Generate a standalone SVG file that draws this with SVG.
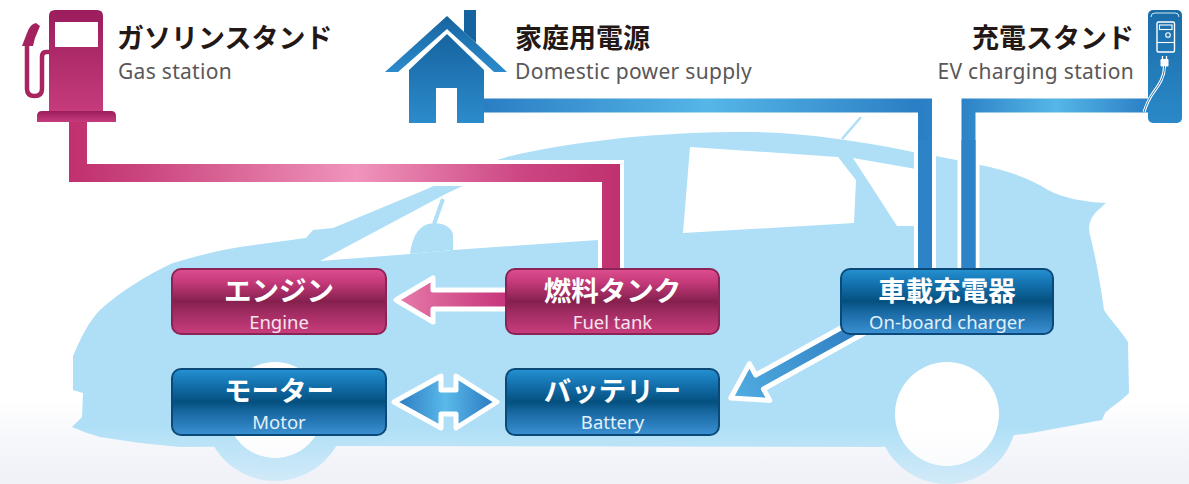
<svg xmlns="http://www.w3.org/2000/svg" width="1189" height="484" viewBox="0 0 1189 484">
  <defs>
    <style>
      .ttl { font-family: "Noto Sans CJK JP", "Noto Sans", sans-serif; font-size: 27px; font-weight: 700; fill: #231815; }
      .sub { font-family: "Noto Sans", "Liberation Sans", sans-serif; font-size: 21px; letter-spacing: 0.3px; fill: #595757; }
      .nj { font-family: "Noto Sans CJK JP", "Noto Sans", sans-serif; font-size: 27.5px; font-weight: 700; fill: #ffffff; text-anchor: middle; }
      .ne { font-family: "Noto Sans", "Liberation Sans", sans-serif; font-size: 18.5px; text-anchor: middle; }
      .pk { fill: url(#gPinkBox); stroke: #8c2357; stroke-width: 2; }
      .bl { fill: url(#gBlueBox); stroke: #0b4a78; stroke-width: 2; }
      .car { fill: #aedff6; }
      .win { fill: #ffffff; }
      .halo { fill: none; stroke: #ffffff; stroke-linejoin: miter; }
      .arw { stroke: #ffffff; stroke-width: 5; stroke-linejoin: round; }
    </style>
    <linearGradient id="gPinkBox" x1="0" y1="0" x2="0" y2="1">
      <stop offset="0" stop-color="#de4f90"/>
      <stop offset="0.2" stop-color="#c53a7a"/>
      <stop offset="0.5" stop-color="#85204e"/>
      <stop offset="0.65" stop-color="#9d2b60"/>
      <stop offset="1" stop-color="#c93d7c"/>
    </linearGradient>
    <linearGradient id="gBlueBox" x1="0" y1="0" x2="0" y2="1">
      <stop offset="0" stop-color="#2592d2"/>
      <stop offset="0.2" stop-color="#1675b3"/>
      <stop offset="0.5" stop-color="#04507f"/>
      <stop offset="0.65" stop-color="#1767a1"/>
      <stop offset="1" stop-color="#3b91d3"/>
    </linearGradient>
    <linearGradient id="gPinkPipe" gradientUnits="userSpaceOnUse" x1="69" y1="0" x2="622" y2="0">
      <stop offset="0" stop-color="#c0306e"/>
      <stop offset="0.12" stop-color="#c9437c"/>
      <stop offset="0.52" stop-color="#f094bb"/>
      <stop offset="0.82" stop-color="#cc4683"/>
      <stop offset="1" stop-color="#c0306e"/>
    </linearGradient>
    <linearGradient id="gHousePipe" gradientUnits="userSpaceOnUse" x1="484" y1="0" x2="932" y2="0">
      <stop offset="0" stop-color="#2a7ec4"/>
      <stop offset="0.5" stop-color="#56b6e7"/>
      <stop offset="0.97" stop-color="#2a7ec4"/>
      <stop offset="1" stop-color="#2c82c6"/>
    </linearGradient>
    <linearGradient id="gEvPipe" gradientUnits="userSpaceOnUse" x1="962" y1="0" x2="1150" y2="0">
      <stop offset="0" stop-color="#2c82c6"/>
      <stop offset="0.5" stop-color="#56b6e7"/>
      <stop offset="1" stop-color="#2a7ec4"/>
    </linearGradient>
    <linearGradient id="gPump" x1="0" y1="0" x2="0" y2="1">
      <stop offset="0" stop-color="#9b1d5c"/>
      <stop offset="1" stop-color="#c63c7c"/>
    </linearGradient>
    <linearGradient id="gHouse" x1="0" y1="0" x2="0" y2="1">
      <stop offset="0" stop-color="#16649f"/>
      <stop offset="1" stop-color="#2c8bcc"/>
    </linearGradient>
    <linearGradient id="gEv" x1="0" y1="0" x2="0" y2="1">
      <stop offset="0" stop-color="#1a6ca7"/>
      <stop offset="1" stop-color="#2b89c9"/>
    </linearGradient>
    <linearGradient id="gFuelArrow" gradientUnits="userSpaceOnUse" x1="394" y1="0" x2="508" y2="0">
      <stop offset="0" stop-color="#e77dab"/>
      <stop offset="1" stop-color="#c6347a"/>
    </linearGradient>
    <linearGradient id="gSwapArrow" gradientUnits="userSpaceOnUse" x1="394" y1="0" x2="497" y2="0">
      <stop offset="0" stop-color="#2877be"/>
      <stop offset="0.5" stop-color="#5ab9ea"/>
      <stop offset="1" stop-color="#2877be"/>
    </linearGradient>
    <linearGradient id="gChargeArrow" gradientUnits="userSpaceOnUse" x1="-180" y1="0" x2="0" y2="0">
      <stop offset="0" stop-color="#2674bb"/>
      <stop offset="1" stop-color="#52aee2"/>
    </linearGradient>
    <linearGradient id="gHaze" x1="0" y1="0" x2="0" y2="1">
      <stop offset="0" stop-color="#f4f6fb" stop-opacity="0"/>
      <stop offset="1" stop-color="#f1f3f9" stop-opacity="0.55"/>
    </linearGradient>
    <linearGradient id="gFloor" x1="0" y1="0" x2="0" y2="1">
      <stop offset="0" stop-color="#ffffff"/>
      <stop offset="1" stop-color="#eef0f7"/>
    </linearGradient>
  </defs>

  <rect x="0" y="0" width="1189" height="484" fill="#ffffff"/>
  <rect x="0" y="400" width="1189" height="84" fill="url(#gFloor)"/>

  <!-- car silhouette -->
  <g id="car">
    <path class="car" d="M333,228 L427,189 C450,179 475,166 507,157 C560,144 640,133 733,132 C790,131 850,139 913,152 C940,157 965,161 980,165 C1005,170 1030,178 1048,190 C1062,198 1085,202 1106,203 L1096,212 C1089,220 1088,228 1090,235 C1095,255 1100,280 1104,310 C1112,322 1122,332 1128,342 L1129,393 C1120,402 1110,408 1105,413 L1102,420 L1037,432 L1025,434 L880,447 L340,446 L180,447 L140,443 L100,437 L87,433 L72,427 L82,417 L83,393 L73,390 L73,356 C80,340 88,322 100,310 C120,292 148,274 173,263 C200,255 220,250 240,247 L306,238 L313,230 Z"/>
    <line x1="842" y1="139" x2="861" y2="117" stroke="#aedff6" stroke-width="2.5"/>
    <path class="win" d="M320,261 L440,197 C455,189 470,182 490,176 L600,166 L598,240 L453,250 L410,254 Z"/>
    <path class="win" d="M690,147 L838,157 L856,180 L854,223 L683,233 Z"/>
    <path class="win" d="M853,158 L916,169 L916,226 L897,226 Z"/>
    <path class="car" d="M410,254 C412,240 416,228 428,224 C440,221 452,226 453,235 L453,250 Z"/>
    <line x1="434" y1="224" x2="443" y2="199" stroke="#aedff6" stroke-width="4"/>
    <circle class="car" cx="275" cy="410" r="71"/>
    <circle class="win" cx="275" cy="410" r="48"/>
    <circle class="car" cx="947" cy="414" r="70"/>
    <circle class="win" cx="947" cy="414" r="52"/>
  </g>
  <rect x="0" y="425" width="1189" height="59" fill="url(#gHaze)"/>

  <!-- connectors -->
  <g id="connectors">
    <path class="halo" stroke-width="26" d="M78,115 V173 H611 V272"/>
    <path fill="none" stroke="url(#gPinkPipe)" stroke-width="18" d="M78,115 V173 H611 V272"/>
    <path class="halo" stroke-width="22" d="M482,105.5 H925 V272"/>
    <path class="halo" stroke-width="22" d="M1150,105.5 H968.5 V272"/>
    <path fill="none" stroke="url(#gHousePipe)" stroke-width="14" d="M482,105.5 H925 V272"/>
    <path fill="none" stroke="url(#gEvPipe)" stroke-width="14" d="M1150,105.5 H968.5 V272"/>
    <path fill="none" stroke="#2d83c7" stroke-width="14" d="M925,140 V272 M968.5,140 V272"/>

    <polygon class="arw" fill="url(#gFuelArrow)" points="396,300 433,278 433,290 508,290 508,309 433,309 433,322"/>
    <polygon class="arw" fill="url(#gSwapArrow)" points="394,402 441,376 441,390 456,390 456,376 497,402 456,428 456,414 441,414 441,428"/>
    <g transform="translate(729,399) rotate(151)">
      <polygon class="arw" fill="url(#gChargeArrow)" points="-2,0 -35,-21 -35,-8 -180,-8 -180,8 -35,8 -35,21"/>
    </g>
  </g>

  <!-- engine -->
  <g id="node-engine">
    <rect class="pk" x="172" y="269" width="214" height="65" rx="9"/>
    <text class="nj" x="279" y="300.5">エンジン</text>
    <text class="ne" x="279" y="328.5" fill="#f6e4ee">Engine</text>
  </g>

  <!-- fuel tank -->
  <g id="node-fuel-tank">
    <rect class="pk" x="506" y="269" width="213" height="65" rx="9"/>
    <text class="nj" x="612.5" y="300.5">燃料タンク</text>
    <text class="ne" x="612.5" y="328.5" fill="#f6e4ee">Fuel tank</text>
  </g>

  <!-- on-board charger -->
  <g id="node-charger">
    <rect class="bl" x="841" y="269" width="212" height="65" rx="9"/>
    <text class="nj" x="947" y="300.5">車載充電器</text>
    <text class="ne" x="947" y="328.5" fill="#e2f0fa">On-board charger</text>
  </g>

  <!-- motor -->
  <g id="node-motor">
    <rect class="bl" x="172" y="369" width="214" height="66" rx="9"/>
    <text class="nj" x="279" y="400.5">モーター</text>
    <text class="ne" x="279" y="428.5" fill="#e2f0fa">Motor</text>
  </g>

  <!-- battery -->
  <g id="node-battery">
    <rect class="bl" x="506" y="369" width="213" height="66" rx="9"/>
    <text class="nj" x="612.5" y="400.5">バッテリー</text>
    <text class="ne" x="612.5" y="428.5" fill="#e2f0fa">Battery</text>
  </g>

  <!-- gas station -->
  <g id="gas-station">
    <path fill="url(#gPump)" d="M49,112 V16 Q49,10 55,10 H97 Q103,10 103,16 V112 Z"/>
    <path fill="url(#gPump)" d="M37,122 V116 Q37,111 42,111 H111 Q116,111 116,116 V122 Z"/>
    <rect x="55" y="22" width="43" height="25" fill="#ffffff"/>
    <path fill="none" stroke="#a8255f" stroke-width="4.5" d="M50,52 H46 Q42,52 42,57 V89 Q42,96 34.5,96 Q27,96 27,89 V44"/>
    <path fill="#a42260" d="M22,46 L27,33 Q30,24 36,23 L40,26 L35,38 L33,46 Z"/>
    <text class="ttl" x="117" y="48">ガソリンスタンド</text>
    <text class="sub" x="118" y="79">Gas station</text>
  </g>

  <!-- domestic power -->
  <g id="home-power">
    <polygon fill="#16649f" points="464,10 476,10 476,43 464,32"/>
    <polygon fill="url(#gHouse)" points="385,72 447,16 507,72 494,72 447,29 398,72"/>
    <polygon fill="url(#gHouse)" points="409,123 409,70 447,34 484,70 484,123"/>
    <rect x="436" y="88" width="21" height="35" fill="#ffffff"/>
    <text class="ttl" x="515" y="48">家庭用電源</text>
    <text class="sub" x="515" y="79">Domestic power supply</text>
  </g>

  <!-- EV charging station -->
  <g id="ev-station">
    <rect x="1148" y="10" width="34" height="113" rx="5" fill="url(#gEv)"/>
    <path d="M1151,17 Q1151,13 1155,13 H1175 Q1179,13 1179,17" fill="none" stroke="#d2e8f6" stroke-width="1"/>
    <rect x="1157" y="22" width="17.5" height="30" rx="1.5" fill="none" stroke="#ffffff" stroke-width="1.4"/>
    <rect x="1159.5" y="25" width="12.5" height="4.5" fill="none" stroke="#ffffff" stroke-width="1.1"/>
    <circle cx="1168" cy="35" r="2.3" fill="none" stroke="#ffffff" stroke-width="1.1"/>
    <line x1="1157" y1="42.5" x2="1174.5" y2="42.5" stroke="#ffffff" stroke-width="1.1"/>
    <rect x="1160.5" y="59" width="8" height="7.5" rx="1.2" fill="#ffffff"/>
    <path d="M1162.5,59 V56 M1166.5,59 V56" stroke="#ffffff" stroke-width="1.3"/>
    <path d="M1164.5,66 C1164.5,78 1158,86 1153,93 C1148,100 1146,106 1144,112" fill="none" stroke="#ffffff" stroke-width="3"/>
    <path d="M1164.5,66 C1164.5,78 1158,86 1153,93 C1148,100 1146,106 1144,112" fill="none" stroke="#2478b8" stroke-width="1"/>
    <text class="ttl" x="1134" y="48" text-anchor="end">充電スタンド</text>
    <text class="sub" x="1134" y="79" text-anchor="end">EV charging station</text>
  </g>
</svg>
